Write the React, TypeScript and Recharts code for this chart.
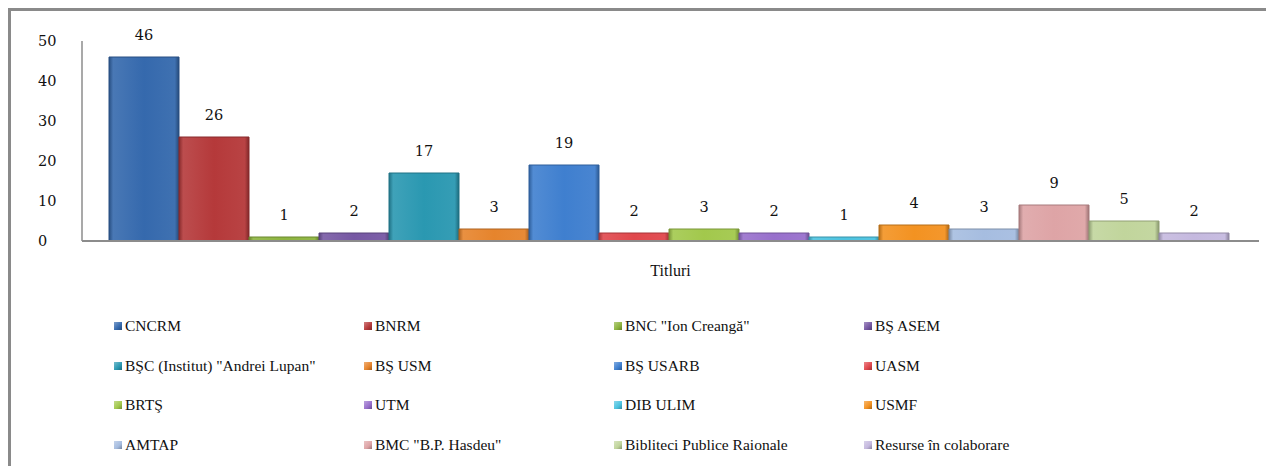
import { BarChart, Bar, XAxis, YAxis, LabelList, Legend } from 'recharts'

const categories = ['Titluri']

const seriesNames = [
  'CNCRM', 'BNRM', 'BNC "Ion Creangă"', 'BŞ ASEM',
  'BŞC (Institut) "Andrei Lupan"', 'BŞ USM', 'BŞ USARB', 'UASM',
  'BRTŞ', 'UTM', 'DIB ULIM', 'USMF',
  'AMTAP', 'BMC "B.P. Hasdeu"', 'Bibliteci Publice Raionale', 'Resurse în colaborare',
]

const seriesValues = [46, 26, 1, 2, 17, 3, 19, 2, 3, 2, 1, 4, 3, 9, 5, 2]

const seriesColors = [
  '#3569ad', '#b5393a', '#8db43f', '#7658a3',
  '#2a98b1', '#e6842c', '#3f7fcf', '#e0474c',
  '#a2c84c', '#9870cc', '#4cc3e0', '#f39221',
  '#a6bde0', '#dea4a6', '#c1d59c', '#c5b9df',
]

const yTicks = [0, 10, 20, 30, 40, 50]

const numFont = '"DejaVu Serif", Georgia, serif'
const textFont = '"Liberation Serif", Georgia, serif'

const data = categories.map((c) => {
  const row: Record<string, string | number> = { name: c }
  seriesValues.forEach((v, i) => { row['s' + i] = v })
  return row
})

function shade(hex: string, f: number) {
  const n = parseInt(hex.slice(1), 16)
  const ch = [(n >> 16) & 255, (n >> 8) & 255, n & 255].map((c) =>
    Math.round(f < 0 ? c * (1 + f) : c + (255 - c) * f))
  return `rgb(${ch[0]},${ch[1]},${ch[2]})`
}

const YTick = ({ y, payload }: any) => (
  <text x={27} y={y} dy={5} textAnchor="start" fontSize={14.5} fontFamily={numFont} fill="#111">
    {payload.value}
  </text>
)

const LegendGrid = () => (
  <div
    style={{
      display: 'grid',
      gridTemplateColumns: 'repeat(4, 250px)',
      paddingLeft: 103,
      fontFamily: textFont,
      fontSize: 15.5,
      color: '#111',
    }}
  >
    {seriesNames.map((n, i) => (
      <div key={n} style={{ height: 39.7, display: 'flex', alignItems: 'center', whiteSpace: 'nowrap' }}>
        <span
          style={{
            display: 'inline-block',
            width: 8,
            height: 8,
            marginRight: 3,
            background: `linear-gradient(135deg, ${shade(seriesColors[i], 0.35)}, ${seriesColors[i]} 60%, ${shade(seriesColors[i], -0.3)})`,
          }}
        />
        {n}
      </div>
    ))}
  </div>
)

export default function App() {
  return (
    <div
      style={{
        width: 1266,
        height: 458,
        borderTop: '3px solid #8a8a8a',
        borderLeft: '3px solid #8a8a8a',
        boxSizing: 'border-box',
        background: '#fff',
        overflow: 'hidden',
      }}
    >
      <BarChart
        width={1263}
        height={455}
        data={data}
        margin={{ top: 30, right: 15, bottom: 185, left: 0 }}
        barCategoryGap={27}
        barGap={0}
      >
        <defs>
          {seriesColors.map((c, i) => (
            <linearGradient key={i} id={'g' + i} x1="0" y1="0" x2="1" y2="0">
              <stop offset="0%" stopColor={shade(c, -0.25)} />
              <stop offset="6%" stopColor={shade(c, 0.1)} />
              <stop offset="50%" stopColor={c} />
              <stop offset="94%" stopColor={shade(c, 0.05)} />
              <stop offset="100%" stopColor={shade(c, -0.3)} />
            </linearGradient>
          ))}
        </defs>
        <XAxis
          dataKey="name"
          height={40}
          tickLine={false}
          tickMargin={18}
          axisLine={{ stroke: '#8c8c8c', strokeWidth: 2 }}
          tick={{ fontSize: 16, fontFamily: textFont, fill: '#111' }}
        />
        <YAxis
          width={71}
          domain={[0, 50]}
          ticks={yTicks}
          tickLine={false}
          axisLine={{ stroke: '#8c8c8c', strokeWidth: 1.5 }}
          tick={<YTick />}
        />
        <Legend
          layout="horizontal"
          verticalAlign="middle"
          align="center"
          wrapperStyle={{ top: 295, left: 0, width: 1263 }}
          content={<LegendGrid />}
        />
        {seriesNames.map((n, i) => (
          <Bar
            key={n}
            dataKey={'s' + i}
            name={n}
            fill={`url(#g${i})`}
            stroke={shade(seriesColors[i], -0.25)}
            strokeWidth={1}
            isAnimationActive={false}
          >
            <LabelList
              dataKey={'s' + i}
              position="top"
              offset={17}
              fontSize={14.5}
              fontFamily={numFont}
              fill="#111"
            />
          </Bar>
        ))}
      </BarChart>
    </div>
  )
}
